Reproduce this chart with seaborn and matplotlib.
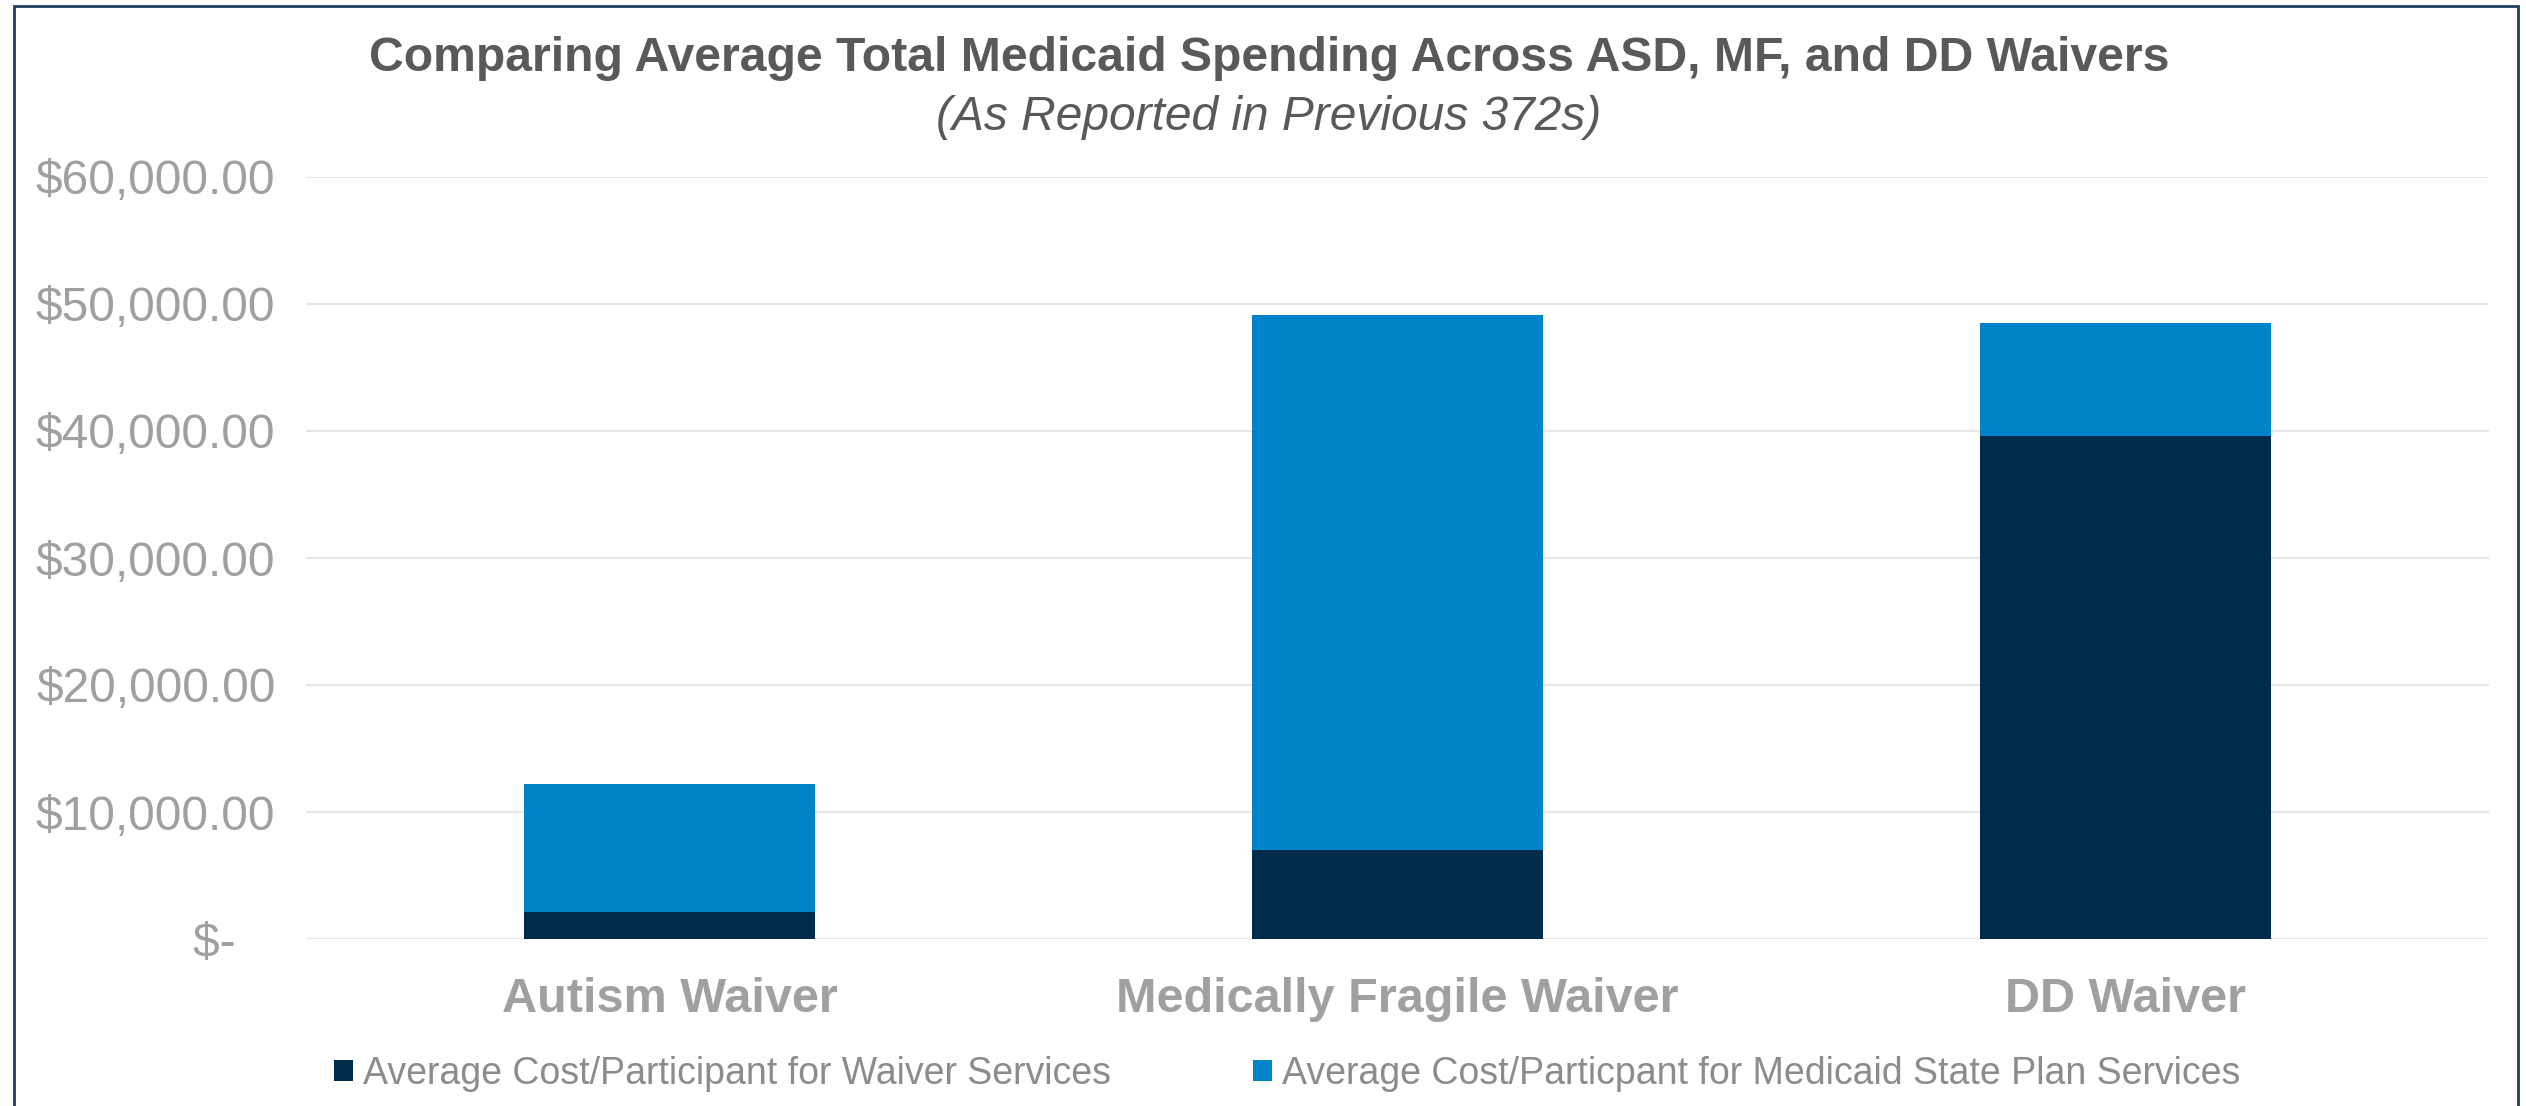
import matplotlib
matplotlib.use("Agg")
import matplotlib.pyplot as plt
import seaborn as sns
import pandas as pd
from matplotlib.patches import Patch, Rectangle

# ---- data ----
categories = ["Autism Waiver", "Medically Fragile Waiver", "DD Waiver"]
waiver_services = [2100, 7000, 39600]
state_plan_services = [10080, 42100, 8900]
series_names = ["Average Cost/Participant for Waiver Services",
                "Average Cost/Particpant for Medicaid State Plan Services"]
y_ticks = [0, 10000, 20000, 30000, 40000, 50000, 60000]
y_tick_labels = ["$-   ", "$10,000.00", "$20,000.00", "$30,000.00",
                 "$40,000.00", "$50,000.00", "$60,000.00"]
title = "Comparing Average Total Medicaid Spending Across ASD, MF, and DD Waivers"
subtitle = "(As Reported in Previous 372s)"

NAVY = "#002B4A"
BLUE = "#0084C9"

sns.set_theme(style="white")
plt.rcParams['font.family'] = ['Liberation Sans', 'DejaVu Sans']

totals = [w + s for w, s in zip(waiver_services, state_plan_services)]
df = pd.DataFrame({"category": categories, "waiver": waiver_services, "total": totals})

fig = plt.figure(figsize=(25.26, 11.06), dpi=100)
ax = fig.add_axes([306 / 2526, 1 - 939 / 1106, (2489 - 306) / 2526, (939 - 177) / 1106])

sns.barplot(data=df, x="category", y="total", color=BLUE, saturation=1,
            width=0.4, errorbar=None, ax=ax, zorder=3, linewidth=0)
sns.barplot(data=df, x="category", y="waiver", color=NAVY, saturation=1,
            width=0.4, errorbar=None, ax=ax, zorder=3, linewidth=0)

ax.set_xlim(-0.5, 2.5)
ax.set_ylim(0, 60000)
ax.set_yticks(y_ticks)
ax.set_yticklabels(y_tick_labels)
ax.set_xlabel("")
ax.set_ylabel("")
ax.set_axisbelow(True)
ax.yaxis.grid(True, color="#E6E6E6", linewidth=1.5, zorder=0)
ax.xaxis.grid(False)
for sp in ax.spines.values():
    sp.set_visible(False)

ax.tick_params(axis="y", length=0, pad=22, labelsize=34.5, labelcolor="#A0A0A0")
ax.tick_params(axis="x", length=0, pad=27, labelsize=35, labelcolor="#A0A0A0")
for lab in ax.get_xticklabels():
    lab.set_fontweight("bold")

fig.text(0.5023, 1 - 71 / 1106, title, ha="center", va="baseline",
         fontsize=34.7, fontweight="bold", color="#595959")
fig.text(0.5023, 1 - 130 / 1106, subtitle, ha="center", va="baseline",
         fontsize=34.5, fontstyle="italic", color="#595959")

handles = [Patch(facecolor=NAVY, edgecolor="none"), Patch(facecolor=BLUE, edgecolor="none")]
fig.legend(handles, series_names, loc="center", bbox_to_anchor=(0.5096, 1 - 1074 / 1106),
           ncol=2, frameon=False, fontsize=27, labelcolor="#8C8C8C",
           handlelength=0.5, handleheight=0.5, handletextpad=0.27,
           columnspacing=3.8, borderaxespad=0)

fig.patches.append(Rectangle((14 / 2526, -0.02), (2518 - 14) / 2526, 1.02 - 6 / 1106,
                             transform=fig.transFigure, fill=False,
                             edgecolor="#1F4060", linewidth=2))

fig.savefig("out.png", dpi=100, facecolor="white")
